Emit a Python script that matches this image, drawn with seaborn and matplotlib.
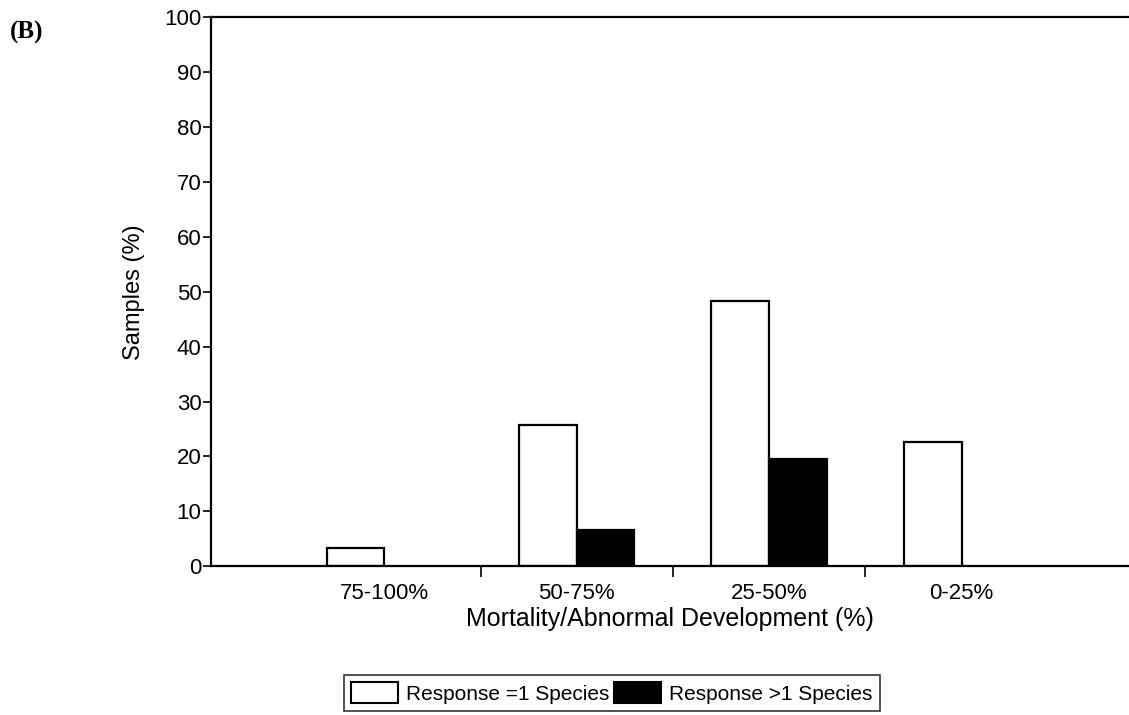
import numpy as np
import pandas as pd
import matplotlib.pyplot as plt
import seaborn as sns
from matplotlib.patches import Patch

# data
categories = ['75-100%', '50-75%', '25-50%', '0-25%']
series_names = ['Response =1 Species', 'Response >1 Species']
one_species = [3.3, 25.7, 48.4, 22.6]
multi_species = [0.0, 6.6, 19.5, 0.0]
y_ticks = [0, 10, 20, 30, 40, 50, 60, 70, 80, 90, 100]

df = pd.DataFrame({
    'cat': categories * 2,
    'val': one_species + multi_species,
    'series': [series_names[0]] * 4 + [series_names[1]] * 4,
})

sns.set_style('ticks')
plt.rcParams['font.family'] = ['Liberation Sans', 'DejaVu Sans']
plt.rcParams['text.color'] = 'black'
plt.rcParams['axes.labelcolor'] = 'black'
plt.rcParams['xtick.color'] = 'black'
plt.rcParams['ytick.color'] = 'black'

fig = plt.figure(figsize=(11.29, 7.15), dpi=100)
ax = fig.add_axes([0.187, 0.208, 0.813, 0.768])

sns.barplot(data=df, x='cat', y='val', hue='series', order=categories,
            hue_order=series_names, palette=['white', 'black'],
            width=0.6, edgecolor='black', linewidth=1.6, ax=ax, legend=False)

# zero-height bars should not show an outline
for p in ax.patches:
    if p.get_height() == 0:
        p.set_visible(False)

ax.set_xlim(-0.9, 3.87)
ax.set_ylim(0, 100)
ax.set_yticks(y_ticks)
ax.tick_params(axis='y', labelsize=16, length=6, width=1.2, pad=1)
ax.tick_params(axis='x', which='major', length=0, labelsize=16, pad=12)
ax.set_xticks([0.5, 1.5, 2.5], minor=True)
ax.tick_params(axis='x', which='minor', length=8, width=1.2)
ax.set_xlabel('Mortality/Abnormal Development (%)', fontsize=18, labelpad=2)
ax.set_ylabel('Samples (%)', fontsize=17, labelpad=14)

for s in ['left', 'bottom', 'top']:
    ax.spines[s].set_linewidth(1.6)
    ax.spines[s].set_color('black')
ax.spines['right'].set_visible(False)

# legend box
handles = [Patch(facecolor='white', edgecolor='black', linewidth=1.5),
           Patch(facecolor='black', edgecolor='black', linewidth=1.5)]
leg = fig.legend(handles, series_names, loc='lower center', ncol=2,
                 bbox_to_anchor=(0.542, 0.0), fontsize=15, frameon=True,
                 fancybox=False, handlelength=2.25, handleheight=1.15,
                 handletextpad=0.4, columnspacing=0.2, borderpad=0.35,
                 borderaxespad=0.2)
leg.get_frame().set_edgecolor('black')
leg.get_frame().set_linewidth(1.2)

fig.text(0.009, 0.955, '(B)', fontsize=18, fontweight='bold', va='center',
         family=['Liberation Serif', 'DejaVu Serif'])

fig.savefig('out.png', dpi=100, facecolor='white')
